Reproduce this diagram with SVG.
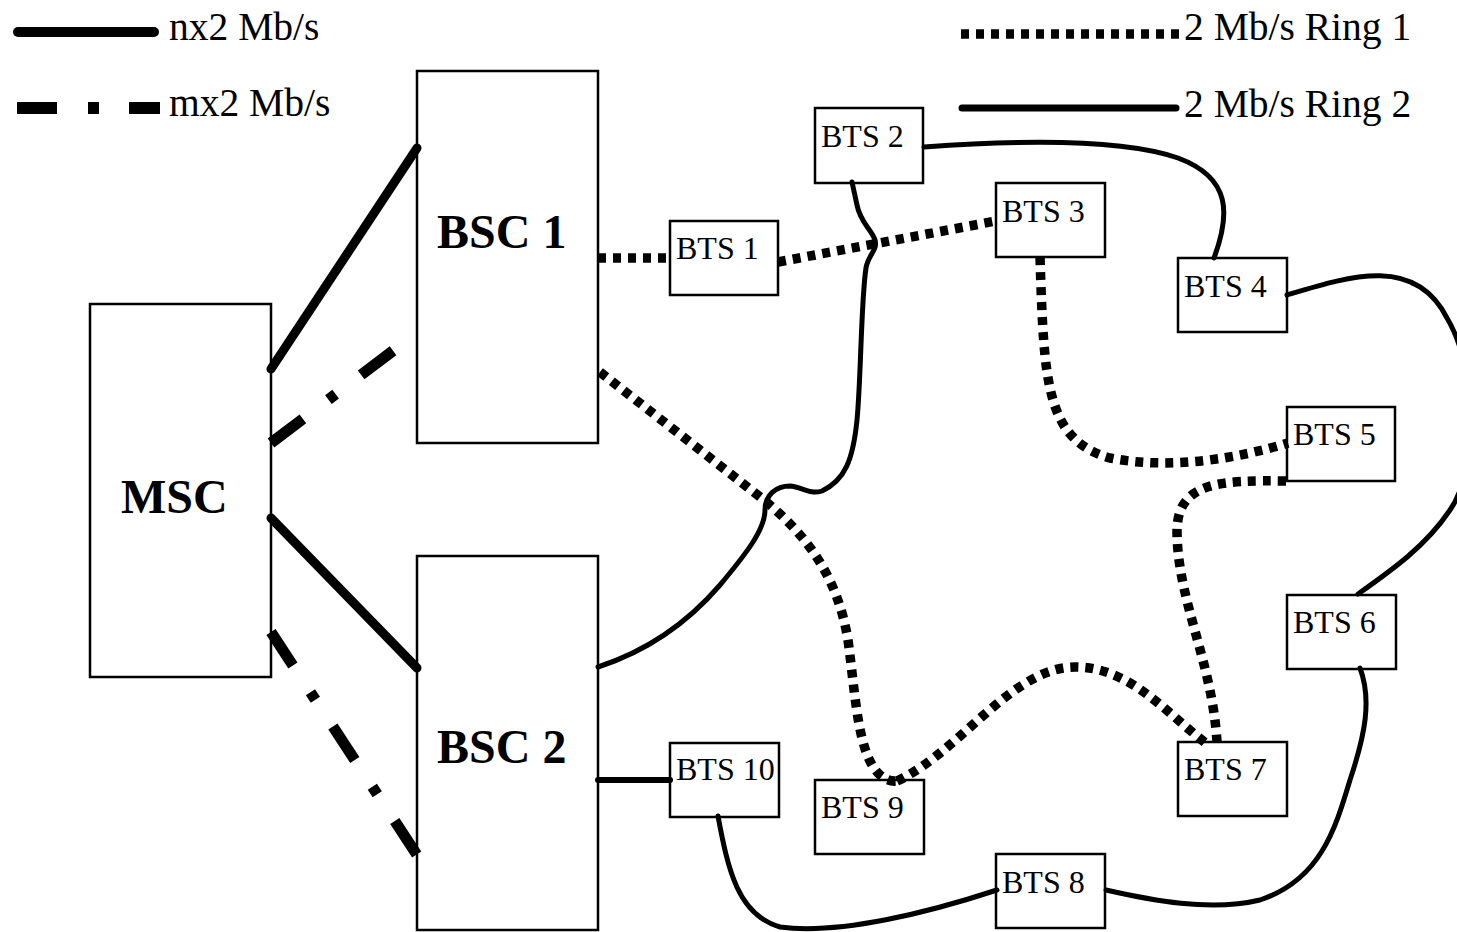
<svg xmlns="http://www.w3.org/2000/svg" width="1457" height="932" viewBox="0 0 1457 932">
<style>
.box{fill:none;stroke:#000;stroke-width:2.5}
.lbl{font-family:"Liberation Serif","Times New Roman",serif;font-size:32px;fill:#000}
.big{font-family:"Liberation Serif","Times New Roman",serif;font-size:48px;font-weight:bold;fill:#000}
.leg{font-family:"Liberation Serif","Times New Roman",serif;font-size:39.5px;fill:#000}
.thick{fill:none;stroke:#000;stroke-width:9;stroke-linecap:round}
.dashdot{fill:none;stroke:#000;stroke-width:11;stroke-linecap:butt;stroke-dasharray:40 32 9 32}
.ring1{fill:none;stroke:#000;stroke-width:9.5;stroke-linecap:butt;stroke-dasharray:8 7}
.ring2{fill:none;stroke:#000;stroke-width:5;stroke-linecap:round;stroke-linejoin:round}
</style>
<rect width="1457" height="932" fill="#fff"/>

<g id="legend">
  <line x1="18" y1="32" x2="154" y2="32" stroke="#000" stroke-width="10" stroke-linecap="round"/>
  <text class="leg" x="169" y="40">nx2 Mb/s</text>
  <line x1="17" y1="108" x2="160" y2="108" stroke="#000" stroke-width="12" stroke-dasharray="40 31 11 30"/>
  <text class="leg" x="169" y="116">mx2 Mb/s</text>
  <line x1="961" y1="34" x2="1180" y2="34" class="ring1"/>
  <text class="leg" x="1184" y="40">2 Mb/s Ring 1</text>
  <line x1="962" y1="108" x2="1176" y2="108" stroke="#000" stroke-width="7" stroke-linecap="round"/>
  <text class="leg" x="1184" y="117">2 Mb/s Ring 2</text>
</g>

<g id="connectors">
  <!-- MSC to BSC links -->
  <line class="thick" x1="271" y1="369" x2="417" y2="148"/>
  <line class="dashdot" x1="271" y1="443" x2="398" y2="347"/>
  <line class="thick" x1="271" y1="518" x2="417" y2="668"/>
  <line class="dashdot" x1="271" y1="632" x2="417" y2="855"/>
  <!-- Ring 1 (dotted) -->
  <line class="ring1" x1="598" y1="258" x2="670" y2="258"/>
  <line class="ring1" x1="778" y1="262" x2="996" y2="221"/>
  <path class="ring1" d="M1040,257 C1044,380 1045,440 1110,458 C1170,470 1240,458 1288,443"/>
  <path class="ring1" d="M1286,481 C1220,480 1178,482 1177,530 C1177,600 1212,660 1217,742"/>
  <path class="ring1" d="M897,781 C960,752 1012,667 1075,667 C1130,667 1165,712 1207,744"/>
  <path class="ring1" d="M600,372 L755,493 C810,535 838,580 848,640 C856,700 858,755 880,775 Q888,782 897,781"/>
  <!-- Ring 2 (solid) -->
  <path class="ring2" d="M924,147 C1020,140 1120,138 1178,158 C1232,178 1230,215 1214,258"/>
  <path class="ring2" d="M1287,295 C1350,276 1415,255 1447,318 C1478,370 1478,470 1450,510 C1426,546 1392,570 1358,594"/>
  <path class="ring2" d="M1360,668 C1372,700 1365,735 1350,780 C1335,830 1320,880 1260,900 C1210,912 1150,900 1106,890"/>
  <path class="ring2" d="M718,816 C728,870 738,915 780,927 C840,935 930,912 997,890"/>
  <line x1="598" y1="780" x2="670" y2="780" stroke="#000" stroke-width="6" stroke-linecap="round"/>
  <path class="ring2" d="M598,667 C650,650 690,620 720,585 C745,555 765,530 765,510 C765,495 776,486 790,486 C802,487 810,495 822,491 C845,480 853,460 857,420 C861,380 861,300 866,268 C868,255 878,250 875,240 C872,230 860,222 857,205 L852,182"/>
</g>

<g id="MSC"><rect class="box" x="90" y="304" width="181" height="373"/><text class="big" x="121" y="513">MSC</text></g>
<g id="BSC1"><rect class="box" x="417" y="71" width="181" height="372"/><text class="big" x="437" y="248">BSC 1</text></g>
<g id="BSC2"><rect class="box" x="417" y="556" width="181" height="374"/><text class="big" x="437" y="763">BSC 2</text></g>

<g id="BTS1"><rect class="box" x="670" y="221" width="108" height="74"/><text class="lbl" x="676" y="259">BTS 1</text></g>
<g id="BTS2"><rect class="box" x="815" y="108" width="108" height="75"/><text class="lbl" x="821" y="147">BTS 2</text></g>
<g id="BTS3"><rect class="box" x="996" y="183" width="109" height="74"/><text class="lbl" x="1002" y="222">BTS 3</text></g>
<g id="BTS4"><rect class="box" x="1178" y="258" width="109" height="74"/><text class="lbl" x="1184" y="297">BTS 4</text></g>
<g id="BTS5"><rect class="box" x="1287" y="407" width="108" height="74"/><text class="lbl" x="1293" y="445">BTS 5</text></g>
<g id="BTS6"><rect class="box" x="1287" y="595" width="109" height="74"/><text class="lbl" x="1293" y="633">BTS 6</text></g>
<g id="BTS7"><rect class="box" x="1178" y="742" width="109" height="74"/><text class="lbl" x="1184" y="780">BTS 7</text></g>
<g id="BTS8"><rect class="box" x="996" y="854" width="109" height="74"/><text class="lbl" x="1002" y="893">BTS 8</text></g>
<g id="BTS9"><rect class="box" x="815" y="780" width="109" height="74"/><text class="lbl" x="821" y="818">BTS 9</text></g>
<g id="BTS10"><rect class="box" x="670" y="743" width="109" height="74"/><text class="lbl" x="676" y="780">BTS 10</text></g>
</svg>
